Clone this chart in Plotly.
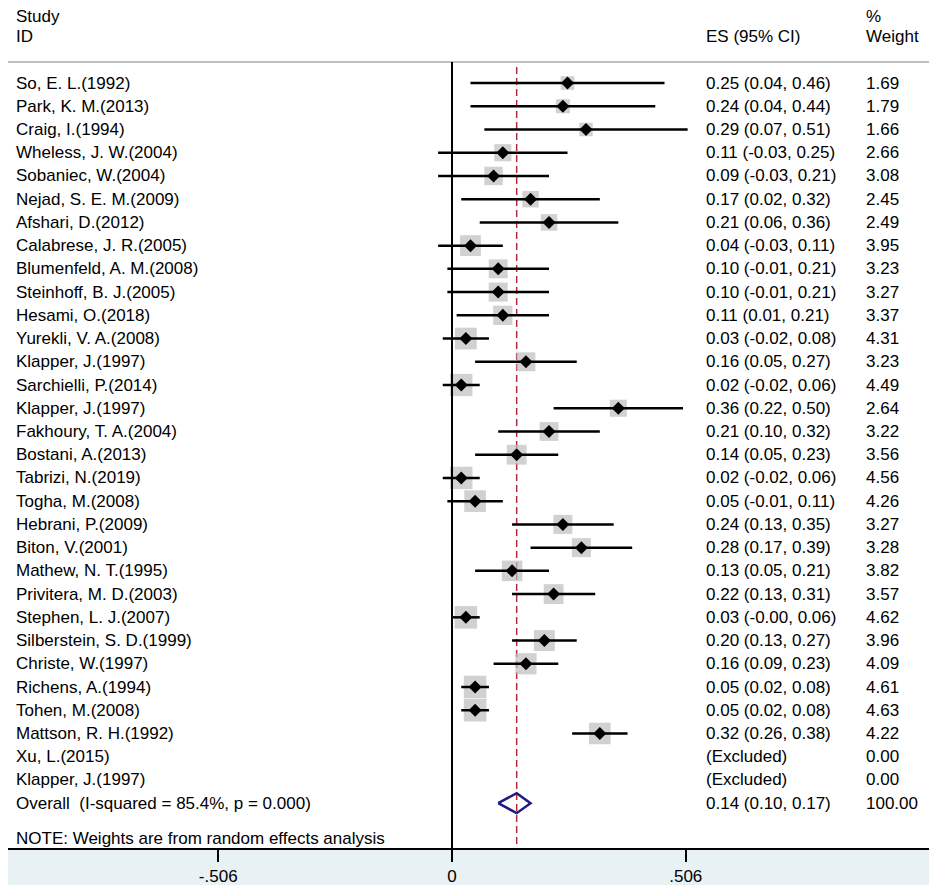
import plotly.graph_objects as go
import math

# study data
studies = [
    "So, E. L.(1992)", "Park, K. M.(2013)", "Craig, I.(1994)", "Wheless, J. W.(2004)",
    "Sobaniec, W.(2004)", "Nejad, S. E. M.(2009)", "Afshari, D.(2012)", "Calabrese, J. R.(2005)",
    "Blumenfeld, A. M.(2008)", "Steinhoff, B. J.(2005)", "Hesami, O.(2018)", "Yurekli, V. A.(2008)",
    "Klapper, J.(1997)", "Sarchielli, P.(2014)", "Klapper, J.(1997)", "Fakhoury, T. A.(2004)",
    "Bostani, A.(2013)", "Tabrizi, N.(2019)", "Togha, M.(2008)", "Hebrani, P.(2009)",
    "Biton, V.(2001)", "Mathew, N. T.(1995)", "Privitera, M. D.(2003)", "Stephen, L. J.(2007)",
    "Silberstein, S. D.(1999)", "Christe, W.(1997)", "Richens, A.(1994)", "Tohen, M.(2008)",
    "Mattson, R. H.(1992)", "Xu, L.(2015)", "Klapper, J.(1997)",
]
es = [0.25, 0.24, 0.29, 0.11, 0.09, 0.17, 0.21, 0.04, 0.10, 0.10, 0.11, 0.03, 0.16, 0.02, 0.36,
      0.21, 0.14, 0.02, 0.05, 0.24, 0.28, 0.13, 0.22, 0.03, 0.20, 0.16, 0.05, 0.05, 0.32, None, None]
lo = [0.04, 0.04, 0.07, -0.03, -0.03, 0.02, 0.06, -0.03, -0.01, -0.01, 0.01, -0.02, 0.05, -0.02, 0.22,
      0.10, 0.05, -0.02, -0.01, 0.13, 0.17, 0.05, 0.13, -0.00, 0.13, 0.09, 0.02, 0.02, 0.26, None, None]
hi = [0.46, 0.44, 0.51, 0.25, 0.21, 0.32, 0.36, 0.11, 0.21, 0.21, 0.21, 0.08, 0.27, 0.06, 0.50,
      0.32, 0.23, 0.06, 0.11, 0.35, 0.39, 0.21, 0.31, 0.06, 0.27, 0.23, 0.08, 0.08, 0.38, None, None]
weights = [1.69, 1.79, 1.66, 2.66, 3.08, 2.45, 2.49, 3.95, 3.23, 3.27, 3.37, 4.31, 3.23, 4.49, 2.64,
           3.22, 3.56, 4.56, 4.26, 3.27, 3.28, 3.82, 3.57, 4.62, 3.96, 4.09, 4.61, 4.63, 4.22, 0.00, 0.00]

overall_label = "Overall\u00a0\u00a0(I-squared = 85.4%, p = 0.000)"
overall_es, overall_lo, overall_hi, overall_w = 0.14, 0.10, 0.17, 100.00

tick_vals = [-0.506, 0, 0.506]
tick_text = ["-.506", "0", ".506"]

FONT = "Liberation Sans, Arial, Helvetica, sans-serif"
fs = 17

# figure is drawn inside the page's default 8px body margin
W, H = 921, 877
plot_h = 840
x0_px, scale = 444, 462

fig = go.Figure()

rows = list(range(len(studies)))
n_overall = len(studies)

# gray weight boxes (area ~ weight)
bx, by, bs = [], [], []
for i, (e, w) in enumerate(zip(es, weights)):
    if e is None:
        continue
    bx.append(e)
    by.append(i)
    bs.append(10.5 * math.sqrt(w))
fig.add_trace(go.Scatter(x=bx, y=by, mode="markers",
                         marker=dict(symbol="square", size=bs, color="#bdbdbd", line=dict(width=0)),
                         hoverinfo="skip", showlegend=False))

# confidence intervals
cx, cy = [], []
for i, (a, b) in enumerate(zip(lo, hi)):
    if a is None:
        continue
    cx += [a, b, None]
    cy += [i, i, None]
fig.add_trace(go.Scatter(x=cx, y=cy, mode="lines", line=dict(color="black", width=2.5),
                         hoverinfo="skip", showlegend=False))

# point estimates
fig.add_trace(go.Scatter(x=bx, y=by, mode="markers",
                         marker=dict(symbol="diamond", size=10, color="black"),
                         hoverinfo="skip", showlegend=False))

# overall diamond
h = 0.43
fig.add_trace(go.Scatter(
    x=[overall_lo, overall_es, overall_hi, overall_es, overall_lo],
    y=[n_overall, n_overall - h, n_overall, n_overall + h, n_overall],
    mode="lines", line=dict(color="#1c1c80", width=2.5),
    hoverinfo="skip", showlegend=False))

y_top_line = -0.904
y_bottom = 32.93
y_top = -3.229

# bottom band
fig.add_shape(type="rect", xref="paper", yref="paper", x0=-0.01, x1=1.01, y0=-(H - plot_h) / plot_h, y1=0,
              fillcolor="#e8f1f3", line=dict(width=0), layer="below")
# separator under header
fig.add_shape(type="line", xref="paper", yref="y", x0=0, x1=1, y0=y_top_line, y1=y_top_line,
              line=dict(color="#a8a8a8", width=1.5))
# null line
fig.add_shape(type="line", xref="x", yref="y", x0=0, x1=0, y0=y_top_line, y1=y_bottom,
              line=dict(color="black", width=2))
# overall effect line
fig.add_shape(type="line", xref="x", yref="y", x0=overall_es, x1=overall_es, y0=-0.69, y1=y_bottom,
              line=dict(color="#b8283c", width=1.5, dash="7px,4px"), layer="below")

x_lab, x_es, x_w = 7 / W, 697 / W, 857 / W


def txt(x, y, s):
    fig.add_annotation(x=x, y=y, xref="paper", yref="y", text=s, showarrow=False, borderpad=0,
                       xanchor="left", yanchor="middle", font=dict(family=FONT, size=fs, color="black"))


# headers
txt(x_lab, -2.86, "Study")
txt(x_lab, -2.02, "ID")
txt(x_es, -2.02, "ES (95% CI)")
txt(x_w, -2.86, "%")
txt(x_w, -2.02, "Weight")

for i in rows:
    txt(x_lab, i, studies[i])
    if es[i] is None:
        txt(x_es, i, "(Excluded)")
    else:
        txt(x_es, i, f"{es[i]:.2f} ({lo[i]:.2f}, {hi[i]:.2f})")
    txt(x_w, i, f"{weights[i]:.2f}")

txt(x_lab, n_overall, overall_label)
txt(x_es, n_overall, f"{overall_es:.2f} ({overall_lo:.2f}, {overall_hi:.2f})")
txt(x_w, n_overall, f"{overall_w:.2f}")
txt(x_lab, 32.5, "NOTE: Weights are from random effects analysis")

fig.update_layout(
    width=W, height=H,
    margin=dict(l=0, r=0, t=0, b=H - plot_h),
    plot_bgcolor="white", paper_bgcolor="white",
    showlegend=False,
    xaxis=dict(range=[-x0_px / scale, (W - x0_px) / scale], showgrid=False, zeroline=False,
               showline=True, linecolor="black", linewidth=2,
               ticks="outside", ticklen=12, tickwidth=2, tickcolor="black",
               tickvals=tick_vals, ticktext=tick_text,
               tickfont=dict(family=FONT, size=fs, color="black"), fixedrange=True),
    yaxis=dict(range=[y_bottom, y_top], showgrid=False, zeroline=False,
               showticklabels=False, fixedrange=True),
)

fig.write_html("out.html")
